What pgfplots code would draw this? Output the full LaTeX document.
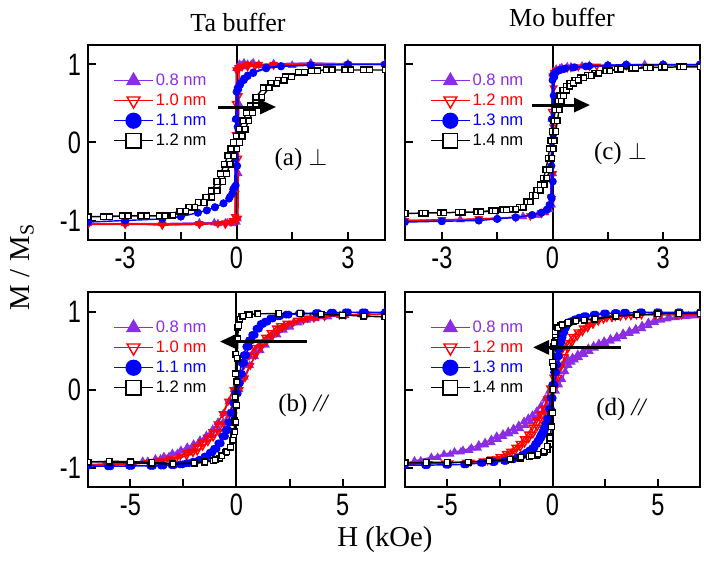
\documentclass[border=0pt]{standalone}
\usepackage{fontspec}
\setmainfont{Liberation Serif}
\setsansfont{Liberation Sans}
\usepackage{graphicx}
\usepackage{pgfplots}
\pgfplotsset{compat=1.18}
\usetikzlibrary{arrows.meta}
\definecolor{vio}{RGB}{140,45,230}

\tikzset{
  lab/.style={font=\fontsize{12.5}{14}\selectfont},
  arr/.style={-{Triangle[length=8pt,width=7pt]}, line width=1.5pt, black},
}
\pgfplotsset{
  hyst/.style={
    scale only axis, width=148.5pt, height=97.5pt,
    ymin=-1.25, ymax=1.25, ytick={-1,0,1},
    tick align=inside, tick pos=left,
    major tick length=4pt, minor tick length=4pt,
    every tick/.style={black, line width=1pt},
    axis line style={line width=1.1pt},
    tick label style={font=\fontsize{15.5}{17}\sffamily},
    /pgf/number format/assume math mode=true,
    xticklabel={\scalebox{0.76}[1]{\pgfmathprintnumber{\tick}}},
    clip marker paths=true,
    legend style={draw=none, fill=none, at={(rel axis cs:0.084,0.865)}, anchor=north west,
      font=\fontsize{8.3}{9}\sffamily, row sep=1pt, inner sep=0pt,
      nodes={inner sep=1pt, text height=6pt, text depth=1pt}},
    legend cell align=left,
    legend image code/.code={\draw[mark repeat=2,mark phase=2,##1,mark size=3.7pt]
      plot coordinates {(0pt,0pt) (9.75pt,0pt) (19.5pt,0pt)};},
  },
  ylab/.style={yticklabel={\scalebox{0.76}[1]{\pgfmathprintnumber{\tick}}}},
  noylab/.style={yticklabels={}},
  top/.style={xmin=-4, xmax=4, xtick={-3,0,3}, minor xtick={-1.5,1.5}},
  bot/.style={xmin=-7, xmax=7, xtick={-5,0,5}, minor xtick={-2.5,2.5}},
  s08/.style={vio, line width=0.7pt, mark=triangle*, mark size=1.8pt, mark options={fill=vio}},
  s10/.style={red, line width=0.7pt, mark=triangle, mark size=1.8pt, mark options={rotate=180, fill=white}},
  s11/.style={blue, line width=0.7pt, mark=*, mark size=1.6pt},
  s12/.style={black, line width=0.7pt, mark=square*, mark size=1.4pt, mark options={fill=white}},
}

\begin{document}
\begin{tikzpicture}
\path[use as bounding box] (0,0) rectangle (352pt,-283pt);

% ---------- (a) Ta buffer, perpendicular ----------
\begin{axis}[hyst, top, ylab, at={(44pt,-120pt)}, anchor=south west]
\draw[line width=1pt] (axis cs:0,-1.25) -- (axis cs:0,1.25);
\addplot[s08] coordinates {
(4,1.0)(3,1.0)(2,1.0)(1.5,0.99)(1,1.0)(0.6,0.99)(0.4,1.0)(0.25,0.99)(0.15,0.97)(0.08,1.0)(0.03,0.96)(0,0.95)
(-0.02,0.3)(-0.03,-0.6)(-0.04,-0.98)(-0.1,-1.02)(-0.3,-1.03)(-0.6,-1.03)(-1,-1.03)(-2,-1.04)(-3,-1.04)(-4,-1.04)
(-3,-1.04)(-2,-1.04)(-1,-1.04)(-0.5,-1.04)(-0.25,-1.03)(-0.1,-1.04)(0,-1.02)(0.03,-0.98)(0.05,-0.4)(0.06,0.5)
(0.07,0.97)(0.12,0.99)(0.2,1.02)(0.3,1.0)(0.45,1.02)(0.6,1.0)(1,1.01)(2,1.02)(3,1.01)(4,1.01)};
\addlegendentry{\textcolor{vio}{0.8 nm}}
\addplot[s10] coordinates {
(4,1.0)(3,1.0)(2,0.99)(1,0.99)(0.5,0.98)(0.3,0.97)(0.15,0.97)(0.05,0.96)(0,0.93)(-0.02,0.5)(-0.02,0.1)
(-0.03,-0.3)(-0.04,-0.95)(-0.1,-1.0)(-0.3,-1.03)(-1,-1.04)(-2,-1.05)(-3,-1.05)(-4,-1.05)
(-3,-1.04)(-2,-1.06)(-1,-1.05)(-0.5,-1.04)(-0.3,-1.05)(-0.15,-1.02)(0,-1.0)(0.04,-0.97)(0.05,-0.2)(0.05,0.1)
(0.06,0.6)(0.07,0.95)(0.12,0.98)(0.3,1.0)(0.6,1.0)(1,1.0)(2,1.0)(3,1.0)(4,1.0)};
\addlegendentry{\textcolor{red}{1.0 nm}}
\addplot[s11] coordinates {
(4,1.0)(3,1.0)(2,0.99)(1.2,0.98)(0.8,0.96)(0.45,0.9)(0.3,0.86)(0.2,0.82)(0.1,0.76)(0.03,0.7)(0,0.65)
(-0.02,0.3)(-0.03,-0.2)(-0.05,-0.57)(-0.12,-0.66)(-0.2,-0.72)(-0.35,-0.78)(-0.58,-0.83)(-0.8,-0.87)
(-1.04,-0.9)(-1.5,-0.95)(-2,-0.98)(-3,-1.0)(-4,-1.02)
(-3,-1.0)(-2,-0.98)(-1.5,-0.95)(-1.04,-0.9)(-0.8,-0.87)(-0.58,-0.83)(-0.35,-0.78)(-0.18,-0.7)(-0.09,-0.6)
(-0.02,-0.55)(0.02,-0.3)(0.03,0.2)(0.05,0.68)(0.1,0.74)(0.2,0.8)(0.3,0.85)(0.45,0.89)(0.8,0.95)(1.2,0.975)
(2,0.99)(3,1.0)(4,1.0)};
\addlegendentry{\textcolor{blue}{1.1 nm}}
\addplot[s12] coordinates {
(4,0.93)(3.42,0.93)(2.92,0.93)(2.42,0.93)(2.02,0.92)(1.67,0.9)(1.32,0.84)(1.12,0.8)(0.92,0.76)(0.72,0.7)
(0.52,0.58)(0.37,0.47)(0.27,0.38)(0.17,0.28)(0.07,0.17)(-0.01,0.08)(-0.08,0)(-0.15,-0.08)(-0.23,-0.17)
(-0.33,-0.28)(-0.43,-0.4)(-0.53,-0.5)(-0.68,-0.62)(-0.83,-0.7)(-1.03,-0.77)(-1.28,-0.83)(-1.53,-0.88)
(-1.88,-0.93)(-2.08,-0.94)(-2.58,-0.94)(-3.08,-0.94)(-3.58,-0.95)(-4,-0.95)
(-3.42,-0.95)(-2.92,-0.94)(-2.42,-0.94)(-1.92,-0.94)(-1.72,-0.93)(-1.37,-0.88)(-1.12,-0.83)(-0.87,-0.77)
(-0.67,-0.7)(-0.52,-0.62)(-0.37,-0.5)(-0.27,-0.4)(-0.17,-0.28)(-0.07,-0.17)(0.01,-0.08)(0.08,0)(0.15,0.08)
(0.23,0.17)(0.33,0.28)(0.43,0.38)(0.53,0.47)(0.68,0.58)(0.88,0.7)(1.08,0.76)(1.28,0.8)(1.48,0.84)(1.83,0.9)
(2.18,0.92)(2.58,0.93)(3.08,0.93)(3.58,0.93)(4,0.93)};
\addlegendentry{1.2 nm}
\draw[arr] (axis cs:-0.5,0.455) -- (axis cs:1.065,0.455);
\node[lab] at (rel axis cs:0.717,0.415) {(a) $\perp$};
\end{axis}

% ---------- (c) Mo buffer, perpendicular ----------
\begin{axis}[hyst, top, noylab, at={(202.5pt,-120pt)}, anchor=south west, width=147.5pt]
\draw[line width=1pt] (axis cs:0,-1.25) -- (axis cs:0,1.25);
\addplot[s08] coordinates {
(4,1.0)(3,1.0)(2,0.995)(1,0.99)(0.5,0.97)(0.25,0.96)(0.1,0.94)(0.03,0.91)(0,0.88)(-0.02,0.3)(-0.03,-0.4)
(-0.04,-0.8)(-0.08,-0.86)(-0.2,-0.9)(-0.4,-0.93)(-0.8,-0.95)(-1.5,-0.97)(-2.5,-0.99)(-4,-1.0)
(-2.5,-0.99)(-1.5,-0.97)(-0.8,-0.95)(-0.4,-0.93)(-0.2,-0.9)(-0.08,-0.86)(-0.02,-0.8)(0.01,-0.4)(0.02,0.3)
(0.03,0.85)(0.08,0.92)(0.2,0.95)(0.4,0.97)(0.8,0.98)(1.5,0.99)(2.5,1.0)(4,1.0)};
\addlegendentry{\textcolor{vio}{0.8 nm}}
\addplot[s10] coordinates {
(4,0.99)(3,0.99)(2,0.985)(1.2,0.98)(0.7,0.97)(0.4,0.955)(0.2,0.94)(0.1,0.92)(0.04,0.9)(0,0.85)(-0.02,0.4)
(-0.03,-0.2)(-0.04,-0.7)(-0.07,-0.82)(-0.15,-0.87)(-0.3,-0.91)(-0.6,-0.94)(-1,-0.96)(-2,-0.98)(-3,-0.99)(-4,-1.0)
(-3,-0.99)(-2,-0.98)(-1,-0.96)(-0.6,-0.94)(-0.3,-0.91)(-0.15,-0.87)(-0.06,-0.8)(-0.02,-0.72)(0.01,-0.4)
(0.02,0.2)(0.03,0.7)(0.06,0.86)(0.12,0.91)(0.25,0.94)(0.5,0.96)(1,0.975)(2,0.985)(3,0.99)(4,0.99)};
\addlegendentry{\textcolor{red}{1.2 nm}}
\addplot[s11] coordinates {
(4,1.0)(3,1.0)(2,0.99)(1.5,0.985)(0.9,0.975)(0.55,0.96)(0.3,0.94)(0.15,0.92)(0.07,0.9)(0.02,0.86)(0,0.8)
(-0.02,0.3)(-0.03,-0.3)(-0.04,-0.7)(-0.08,-0.8)(-0.15,-0.86)(-0.3,-0.9)(-0.55,-0.93)(-1.0,-0.96)(-1.5,-0.98)
(-2,-1.0)(-3,-1.01)(-4,-1.02)
(-3,-1.01)(-2,-1.0)(-1.5,-0.98)(-1,-0.96)(-0.55,-0.93)(-0.3,-0.9)(-0.15,-0.86)(-0.07,-0.8)(-0.02,-0.72)
(0.01,-0.5)(0.02,0.1)(0.03,0.6)(0.05,0.84)(0.1,0.9)(0.2,0.93)(0.35,0.95)(0.6,0.965)(1,0.98)(1.5,0.99)
(2,1.0)(3,1.0)(4,1.0)};
\addlegendentry{\textcolor{blue}{1.3 nm}}
\addplot[s12] coordinates {
(4,0.97)(3.45,0.97)(2.95,0.965)(2.55,0.96)(2.15,0.95)(1.75,0.94)(1.45,0.92)(1.15,0.89)(0.95,0.86)(0.75,0.83)
(0.6,0.8)(0.47,0.76)(0.37,0.72)(0.28,0.67)(0.2,0.6)(0.14,0.53)(0.08,0.42)(0.03,0.28)(-0.01,0.14)(-0.05,0.02)
(-0.08,-0.08)(-0.12,-0.2)(-0.18,-0.35)(-0.25,-0.46)(-0.33,-0.54)(-0.43,-0.61)(-0.55,-0.68)(-0.7,-0.76)
(-0.9,-0.83)(-1.1,-0.855)(-1.35,-0.865)(-1.65,-0.875)(-2.05,-0.89)(-2.55,-0.895)(-3.05,-0.9)(-3.55,-0.905)(-4,-0.91)
(-3.45,-0.905)(-2.95,-0.9)(-2.45,-0.895)(-1.95,-0.89)(-1.55,-0.875)(-1.25,-0.865)(-1.0,-0.855)(-0.8,-0.83)
(-0.6,-0.76)(-0.45,-0.68)(-0.33,-0.61)(-0.23,-0.54)(-0.15,-0.46)(-0.08,-0.35)(-0.02,-0.2)(0.02,-0.08)
(0.05,0.02)(0.09,0.14)(0.13,0.28)(0.18,0.42)(0.24,0.53)(0.3,0.6)(0.38,0.67)(0.47,0.72)(0.57,0.76)(0.7,0.8)
(0.85,0.83)(1.05,0.86)(1.25,0.89)(1.55,0.92)(1.85,0.94)(2.25,0.95)(2.65,0.96)(3.05,0.965)(3.55,0.97)(4,0.97)};
\addlegendentry{1.4 nm}
\draw[arr] (axis cs:-0.556,0.48) -- (axis cs:1.017,0.48);
\node[lab] at (rel axis cs:0.73,0.446) {(c) $\perp$};
\end{axis}

% ---------- (b) Ta buffer, in plane ----------
\begin{axis}[hyst, bot, ylab, at={(44pt,-243.5pt)}, anchor=south west]
\draw[line width=1pt] (axis cs:0,-1.25) -- (axis cs:0,1.25);
\addplot[s08] coordinates {
(7,0.96)(5.88,0.96)(4.88,0.95)(4.08,0.93)(3.48,0.91)(3.08,0.89)(2.68,0.855)(2.28,0.8)(1.98,0.76)(1.68,0.7)
(1.38,0.64)(1.13,0.57)(0.88,0.5)(0.63,0.42)(0.38,0.31)(0.13,0.16)(-0.12,0)(-0.37,-0.16)(-0.62,-0.31)
(-0.87,-0.42)(-1.12,-0.51)(-1.42,-0.59)(-1.72,-0.65)(-2.02,-0.7)(-2.32,-0.74)(-2.62,-0.78)(-3.02,-0.82)
(-3.42,-0.86)(-3.82,-0.89)(-4.42,-0.92)(-5.12,-0.94)(-6.12,-0.955)(-7,-0.96)
(-5.88,-0.955)(-4.88,-0.94)(-4.18,-0.92)(-3.58,-0.89)(-3.18,-0.86)(-2.78,-0.82)(-2.38,-0.78)(-2.08,-0.74)
(-1.78,-0.7)(-1.48,-0.65)(-1.18,-0.59)(-0.88,-0.51)(-0.63,-0.42)(-0.38,-0.31)(-0.13,-0.16)(0.12,0)(0.37,0.16)
(0.62,0.31)(0.87,0.42)(1.12,0.5)(1.37,0.57)(1.62,0.64)(1.92,0.7)(2.22,0.76)(2.52,0.8)(2.92,0.855)(3.32,0.89)
(3.72,0.91)(4.32,0.93)(5.12,0.95)(6.12,0.96)(7,0.96)};
\addlegendentry{\textcolor{vio}{0.8 nm}}
\addplot[s10] coordinates {
(7,0.97)(5.85,0.965)(4.85,0.955)(3.85,0.935)(3.35,0.915)(2.85,0.89)(2.35,0.85)(2.05,0.82)(1.85,0.79)(1.6,0.73)
(1.35,0.67)(1.1,0.61)(0.85,0.54)(0.6,0.44)(0.35,0.31)(0.1,0.15)(-0.15,0)(-0.4,-0.15)(-0.65,-0.31)(-0.9,-0.44)
(-1.15,-0.54)(-1.4,-0.61)(-1.65,-0.67)(-1.9,-0.73)(-2.15,-0.79)(-2.35,-0.81)(-2.65,-0.85)(-3.15,-0.89)
(-3.65,-0.915)(-4.15,-0.935)(-5.15,-0.955)(-6.15,-0.965)(-7,-0.97)
(-5.85,-0.965)(-4.85,-0.955)(-3.85,-0.935)(-3.35,-0.915)(-2.85,-0.89)(-2.35,-0.85)(-2.05,-0.81)(-1.85,-0.79)
(-1.6,-0.73)(-1.35,-0.67)(-1.1,-0.61)(-0.85,-0.54)(-0.6,-0.44)(-0.35,-0.31)(-0.1,-0.15)(0.15,0)(0.4,0.15)
(0.65,0.31)(0.9,0.44)(1.15,0.54)(1.4,0.61)(1.65,0.67)(1.9,0.73)(2.15,0.79)(2.35,0.82)(2.65,0.85)(3.15,0.89)
(3.65,0.915)(4.15,0.935)(5.15,0.955)(6.15,0.965)(7,0.97)};
\addlegendentry{\textcolor{red}{1.0 nm}}
\addplot[s11] coordinates {
(7,0.99)(5.94,0.99)(5.14,0.99)(4.44,0.985)(3.74,0.98)(2.94,0.975)(2.34,0.96)(1.94,0.94)(1.59,0.91)(1.34,0.87)
(1.14,0.84)(0.94,0.78)(0.74,0.7)(0.59,0.63)(0.46,0.55)(0.34,0.44)(0.24,0.34)(0.14,0.2)(0.04,0.08)(-0.06,-0.05)
(-0.16,-0.17)(-0.26,-0.3)(-0.38,-0.42)(-0.51,-0.52)(-0.66,-0.6)(-0.86,-0.69)(-1.06,-0.76)(-1.26,-0.81)
(-1.51,-0.86)(-1.76,-0.9)(-2.06,-0.925)(-2.36,-0.945)(-2.66,-0.96)(-3.06,-0.97)(-3.56,-0.975)(-4.06,-0.98)
(-5.06,-0.98)(-6.06,-0.985)(-7,-0.98)
(-5.94,-0.985)(-4.94,-0.98)(-3.94,-0.98)(-3.44,-0.975)(-2.94,-0.97)(-2.54,-0.96)(-2.24,-0.945)(-1.94,-0.925)
(-1.64,-0.9)(-1.39,-0.86)(-1.14,-0.81)(-0.94,-0.76)(-0.74,-0.69)(-0.54,-0.6)(-0.39,-0.52)(-0.26,-0.42)
(-0.14,-0.3)(-0.04,-0.17)(0.06,-0.05)(0.16,0.08)(0.26,0.2)(0.36,0.34)(0.46,0.44)(0.58,0.55)(0.71,0.63)
(0.86,0.7)(1.06,0.78)(1.26,0.84)(1.46,0.87)(1.71,0.91)(2.06,0.94)(2.46,0.96)(3.06,0.975)(3.86,0.98)
(4.56,0.985)(5.26,0.99)(6.06,0.99)(7,0.99)};
\addlegendentry{\textcolor{blue}{1.1 nm}}
\addplot[s12] coordinates {
(7,0.93)(6,0.94)(5,0.955)(4,0.965)(3,0.975)(2,0.975)(1,0.97)(0.5,0.96)(0.25,0.94)(0.12,0.9)(0.05,0.8)
(0.0,0.65)(-0.03,0.45)(-0.05,0.2)(-0.07,-0.1)(-0.09,-0.4)(-0.12,-0.58)(-0.2,-0.66)(-0.3,-0.74)(-0.5,-0.81)
(-0.8,-0.88)(-1.1,-0.915)(-1.5,-0.93)(-2,-0.945)(-3,-0.955)(-4,-0.95)(-5,-0.94)(-6,-0.93)(-7,-0.93)
(-6,-0.92)(-5,-0.925)(-4,-0.935)(-3,-0.95)(-2,-0.94)(-1.5,-0.925)(-1,-0.9)(-0.7,-0.85)(-0.45,-0.8)
(-0.28,-0.74)(-0.16,-0.65)(-0.08,-0.54)(-0.03,-0.42)(0,-0.2)(0.02,0.1)(0.04,0.4)(0.06,0.65)(0.09,0.82)
(0.15,0.9)(0.3,0.94)(0.6,0.96)(1,0.97)(2,0.975)(3,0.975)(4,0.965)(5,0.955)(6,0.94)(7,0.93)};
\addlegendentry{1.2 nm}
\draw[arr] (axis cs:3.32,0.615) -- (axis cs:-0.78,0.615);
\node[lab] at (rel axis cs:0.727,0.42) {(b) \textit{//}};
\end{axis}

% ---------- (d) Mo buffer, in plane ----------
\begin{axis}[hyst, bot, noylab, at={(202.5pt,-243.5pt)}, anchor=south west, width=147.5pt]
\draw[line width=1pt] (axis cs:0,-1.25) -- (axis cs:0,1.25);
\addplot[s08] coordinates {
(7,0.95)(6.45,0.945)(6.05,0.935)(5.55,0.92)(5.15,0.905)(4.85,0.89)(4.55,0.86)(4.25,0.82)(3.95,0.78)(3.65,0.75)
(3.35,0.72)(3.05,0.68)(2.75,0.65)(2.45,0.62)(2.2,0.59)(1.95,0.56)(1.7,0.53)(1.45,0.49)(1.2,0.45)(0.95,0.41)
(0.75,0.38)(0.6,0.35)(0.45,0.31)(0.3,0.23)(0.15,0.13)(0,0.06)(-0.15,-0.02)(-0.35,-0.12)(-0.55,-0.21)
(-0.75,-0.28)(-0.95,-0.33)(-1.15,-0.37)(-1.35,-0.41)(-1.6,-0.46)(-1.85,-0.5)(-2.1,-0.54)(-2.35,-0.57)
(-2.65,-0.6)(-2.9,-0.64)(-3.2,-0.68)(-3.5,-0.71)(-3.85,-0.75)(-4.25,-0.78)(-4.65,-0.8)(-5.15,-0.83)
(-5.75,-0.87)(-6.55,-0.915)(-7,-0.95)
(-6.25,-0.915)(-5.45,-0.87)(-4.85,-0.83)(-4.35,-0.8)(-3.95,-0.78)(-3.55,-0.75)(-3.2,-0.71)(-2.9,-0.68)
(-2.6,-0.64)(-2.35,-0.6)(-2.05,-0.57)(-1.8,-0.54)(-1.55,-0.5)(-1.3,-0.46)(-1.05,-0.41)(-0.85,-0.37)
(-0.65,-0.33)(-0.45,-0.28)(-0.25,-0.21)(-0.05,-0.12)(0.15,-0.02)(0.3,0.06)(0.45,0.13)(0.6,0.23)(0.75,0.31)
(0.9,0.35)(1.05,0.38)(1.25,0.41)(1.5,0.45)(1.75,0.49)(2.0,0.53)(2.25,0.56)(2.5,0.59)(2.75,0.62)(3.05,0.65)
(3.35,0.68)(3.65,0.72)(3.95,0.75)(4.25,0.78)(4.55,0.82)(4.85,0.86)(5.15,0.89)(5.45,0.905)(5.85,0.92)
(6.35,0.935)(6.75,0.945)(7,0.95)};
\addlegendentry{\textcolor{vio}{0.8 nm}}
\addplot[s10] coordinates {
(7,0.96)(5.88,0.955)(4.88,0.955)(3.98,0.955)(3.48,0.945)(2.98,0.935)(2.58,0.92)(2.18,0.9)(1.93,0.875)
(1.68,0.835)(1.43,0.79)(1.18,0.74)(0.93,0.68)(0.68,0.6)(0.48,0.52)(0.33,0.42)(0.18,0.3)(0.03,0.16)
(-0.12,0.02)(-0.27,-0.12)(-0.42,-0.24)(-0.57,-0.31)(-0.77,-0.39)(-0.97,-0.48)(-1.17,-0.57)(-1.37,-0.63)
(-1.57,-0.69)(-1.77,-0.74)(-2.02,-0.79)(-2.22,-0.82)(-2.52,-0.86)(-2.92,-0.89)(-3.32,-0.915)(-4.12,-0.93)
(-5.12,-0.94)(-6.12,-0.95)(-7,-0.96)
(-5.88,-0.95)(-4.88,-0.94)(-3.88,-0.93)(-3.08,-0.915)(-2.68,-0.89)(-2.28,-0.86)(-1.98,-0.82)(-1.78,-0.79)
(-1.53,-0.74)(-1.33,-0.69)(-1.13,-0.63)(-0.93,-0.57)(-0.73,-0.48)(-0.53,-0.39)(-0.33,-0.31)(-0.18,-0.24)
(-0.03,-0.12)(0.12,0.02)(0.27,0.16)(0.42,0.3)(0.57,0.42)(0.72,0.52)(0.92,0.6)(1.17,0.68)(1.42,0.74)
(1.67,0.79)(1.92,0.835)(2.17,0.875)(2.42,0.9)(2.82,0.92)(3.22,0.935)(3.72,0.945)(4.22,0.955)(5.12,0.955)
(6.12,0.955)(7,0.96)};
\addlegendentry{\textcolor{red}{1.2 nm}}
\addplot[s11] coordinates {
(7,0.99)(5.95,0.99)(4.95,0.99)(4.15,0.99)(3.39,0.985)(2.95,0.98)(2.44,0.975)(1.95,0.96)(1.49,0.94)(1.25,0.92)
(1.05,0.9)(0.86,0.875)(0.73,0.86)(0.62,0.835)(0.54,0.79)(0.46,0.73)(0.38,0.67)(0.31,0.6)(0.25,0.52)(0.2,0.43)
(0.13,0.32)(0.07,0.22)(-0.01,0.06)(-0.09,-0.11)(-0.17,-0.25)(-0.25,-0.37)(-0.33,-0.44)(-0.41,-0.49)
(-0.48,-0.54)(-0.56,-0.58)(-0.63,-0.62)(-0.72,-0.66)(-0.83,-0.7)(-0.96,-0.75)(-1.1,-0.78)(-1.27,-0.81)
(-1.45,-0.84)(-1.67,-0.87)(-1.95,-0.895)(-2.3,-0.915)(-2.85,-0.93)(-3.41,-0.94)(-4.2,-0.96)(-5.05,-0.965)
(-6.05,-0.97)(-7,-0.97)
(-5.95,-0.97)(-4.95,-0.965)(-4.1,-0.96)(-3.31,-0.94)(-2.75,-0.93)(-2.2,-0.915)(-1.85,-0.895)(-1.57,-0.87)
(-1.35,-0.84)(-1.17,-0.81)(-1.0,-0.78)(-0.86,-0.75)(-0.73,-0.7)(-0.62,-0.66)(-0.53,-0.62)(-0.46,-0.58)
(-0.38,-0.54)(-0.31,-0.49)(-0.23,-0.44)(-0.15,-0.37)(-0.07,-0.25)(0.01,-0.11)(0.09,0.06)(0.17,0.22)
(0.23,0.32)(0.3,0.43)(0.35,0.52)(0.41,0.6)(0.48,0.67)(0.56,0.73)(0.64,0.79)(0.72,0.835)(0.83,0.86)
(0.96,0.875)(1.15,0.9)(1.35,0.92)(1.59,0.94)(2.05,0.96)(2.54,0.975)(3.05,0.98)(3.49,0.985)(4.25,0.99)
(5.05,0.99)(6.05,0.99)(7,0.99)};
\addlegendentry{\textcolor{blue}{1.3 nm}}
\addplot[s12] coordinates {
(7,0.975)(6,0.975)(5,0.97)(4,0.96)(3,0.94)(2,0.91)(1.5,0.89)(1,0.87)(0.7,0.85)(0.4,0.82)(0.25,0.78)
(0.12,0.7)(0.05,0.55)(0,0.35)(-0.02,0)(-0.04,-0.3)(-0.08,-0.6)(-0.12,-0.7)(-0.25,-0.77)(-0.45,-0.81)
(-0.75,-0.84)(-1.1,-0.86)(-1.5,-0.88)(-2,-0.9)(-3,-0.915)(-4,-0.93)(-5,-0.935)(-6,-0.94)(-7,-0.94)
(-6,-0.935)(-5,-0.935)(-4,-0.93)(-3,-0.915)(-2,-0.895)(-1.5,-0.87)(-1,-0.85)(-0.7,-0.83)(-0.4,-0.79)
(-0.25,-0.73)(-0.12,-0.62)(-0.05,-0.48)(0,-0.3)(0.02,0)(0.04,0.3)(0.08,0.6)(0.12,0.74)(0.25,0.79)
(0.45,0.83)(0.75,0.86)(1.1,0.88)(1.5,0.89)(2,0.9)(3,0.94)(4,0.96)(5,0.97)(6,0.975)(7,0.975)};
\addlegendentry{1.4 nm}
\draw[arr] (axis cs:3.25,0.54) -- (axis cs:-0.925,0.54);
\node[lab] at (rel axis cs:0.735,0.395) {(d) \textit{//}};
\end{axis}

% ---------- titles and axis labels ----------
\node[font=\fontsize{13}{15}\selectfont] at (119pt,-11pt) {Ta buffer};
\node[font=\fontsize{13}{15}\selectfont] at (281pt,-8.5pt) {Mo buffer};
\node[font=\fontsize{14.4}{16}\selectfont] at (192.5pt,-270pt) {H (kOe)};
\node[font=\fontsize{14.4}{16}\selectfont, rotate=90] at (11pt,-133.5pt) {M\hspace{4pt}/\hspace{4pt}M\textsubscript{S}};
\end{tikzpicture}
\end{document}
